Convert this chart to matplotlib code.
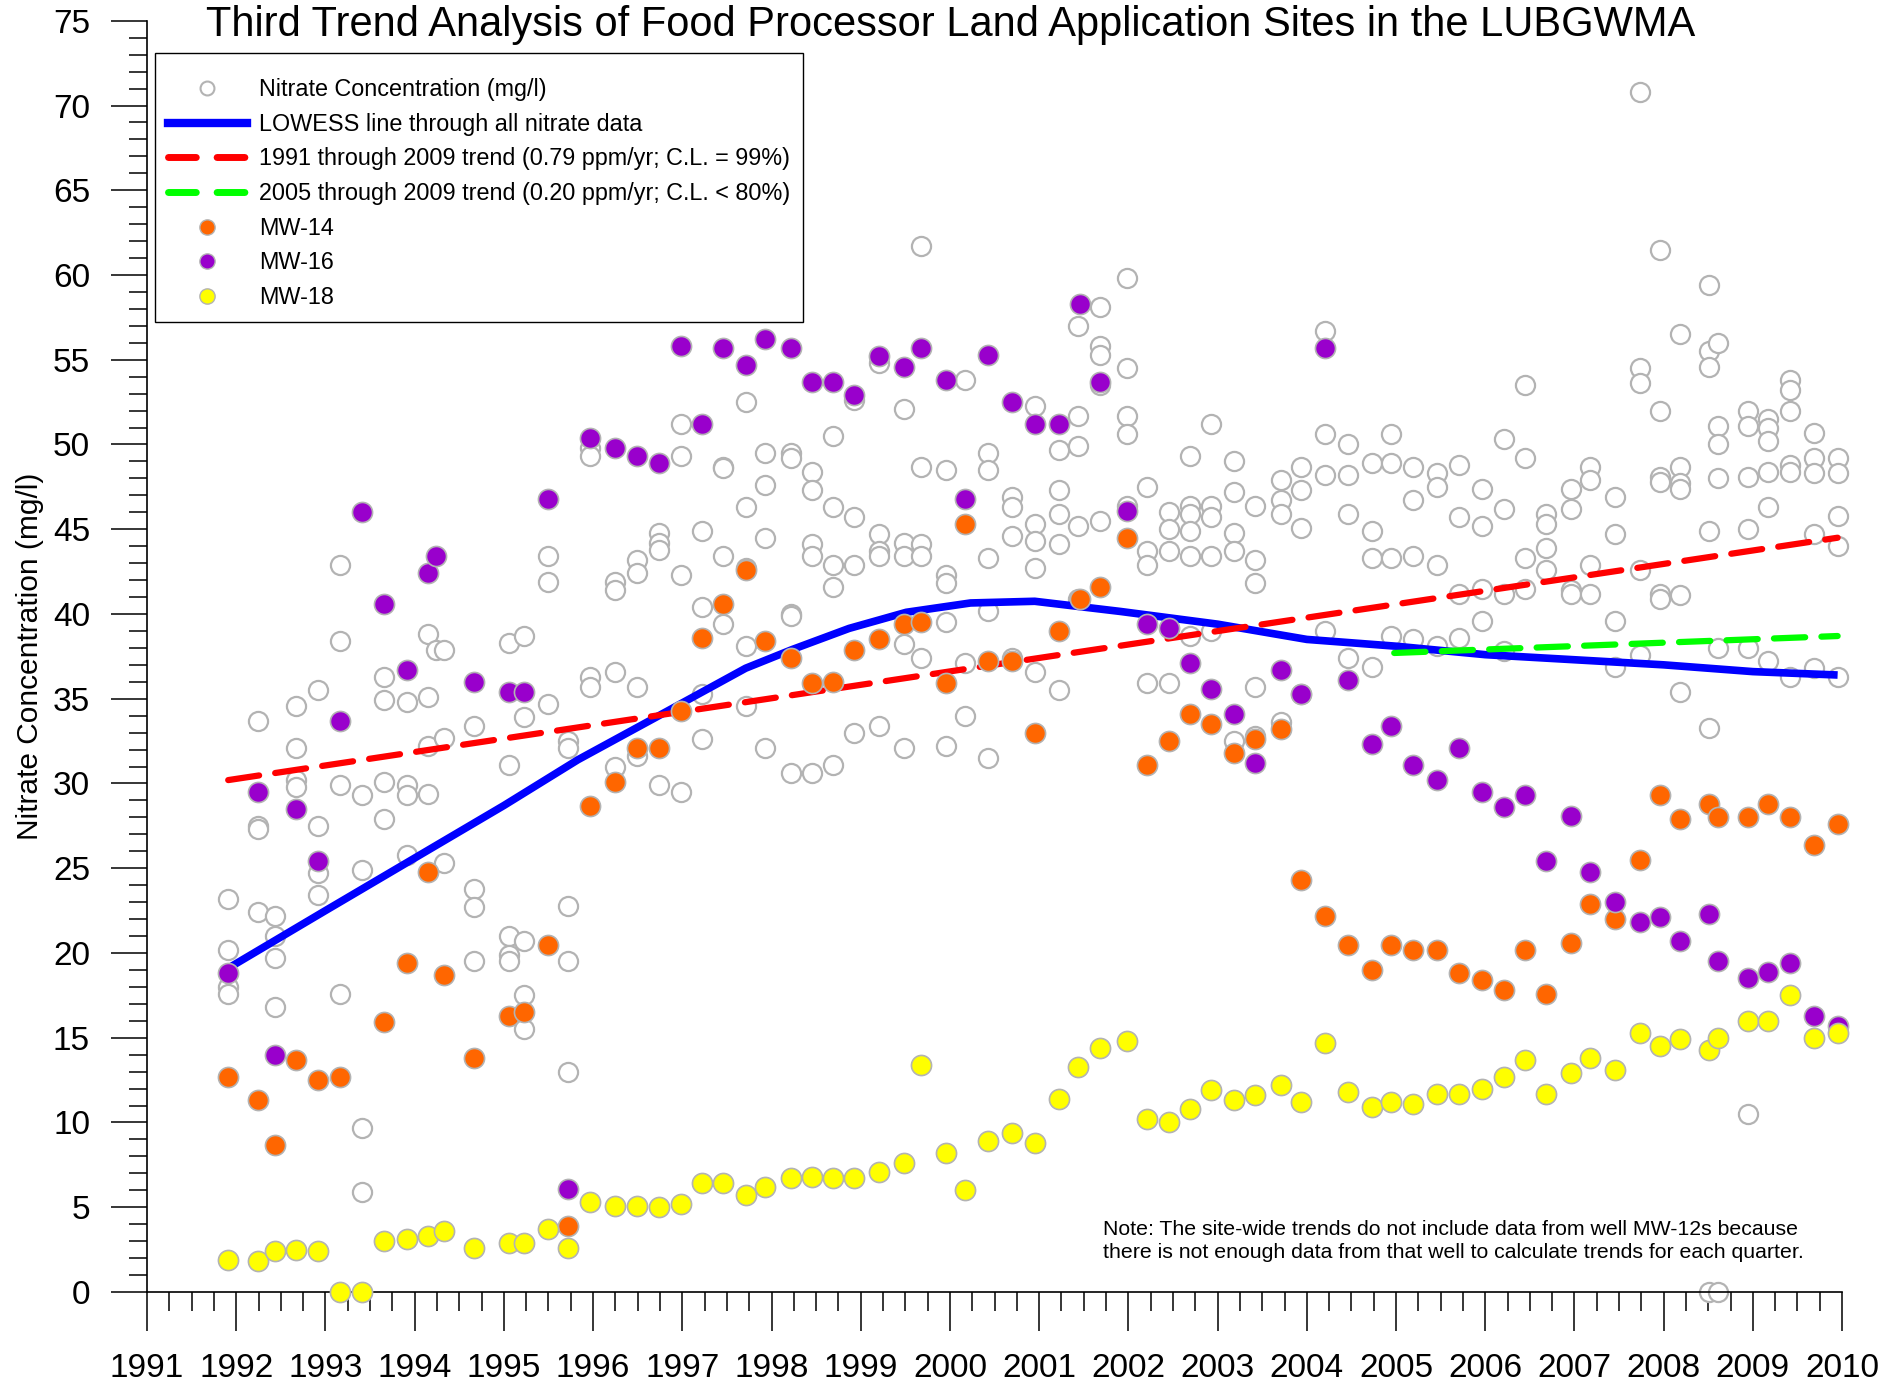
import numpy as np
import matplotlib
matplotlib.use("Agg")
import matplotlib.pyplot as plt
from matplotlib.ticker import MultipleLocator
from matplotlib.lines import Line2D

plt.rcParams['font.family'] = ['Liberation Sans', 'DejaVu Sans']

# ---------------- data ----------------
# MW-14
mw14_dates = [1991.91, 1992.24, 1992.43, 1992.67, 1992.92, 1993.16, 1993.66, 1993.91, 1994.15, 1994.33,
              1994.67, 1995.06, 1995.23, 1995.50, 1995.72, 1995.96, 1996.25, 1996.49, 1996.74, 1996.99,
              1997.22, 1997.46, 1997.71, 1997.93, 1998.22, 1998.45, 1998.69, 1998.92, 1999.21, 1999.49,
              1999.68, 1999.96, 2000.17, 2000.43, 2000.70, 2000.95, 2001.22, 2001.46, 2001.68, 2001.98,
              2002.21, 2002.46, 2002.69, 2002.93, 2003.18, 2003.42, 2003.71, 2003.94, 2004.20, 2004.46,
              2004.73, 2004.94, 2005.19, 2005.46, 2005.71, 2005.96, 2006.21, 2006.45, 2006.68, 2006.96,
              2007.17, 2007.45, 2007.73, 2007.96, 2008.18, 2008.51, 2008.61, 2008.94, 2009.17, 2009.42,
              2009.69, 2009.95]
mw14_values = [12.7, 11.3, 8.7, 13.7, 12.5, 12.7, 15.9, 19.4, 24.8, 18.7,
               13.8, 16.3, 16.5, 20.5, 3.9, 28.7, 30.1, 32.1, 32.1, 34.3,
               38.6, 40.6, 42.6, 38.4, 37.4, 35.9, 36.0, 37.9, 38.5, 39.4,
               39.5, 35.9, 45.3, 37.2, 37.2, 33.0, 39.0, 40.9, 41.6, 44.5,
               31.1, 32.5, 34.1, 33.5, 31.8, 32.6, 33.2, 24.3, 22.2, 20.5,
               19.0, 20.5, 20.2, 20.2, 18.8, 18.4, 17.8, 20.2, 17.6, 20.6,
               22.9, 22.0, 25.5, 29.3, 27.9, 28.8, 28.0, 28.0, 28.8, 28.0,
               26.4, 27.6]

# MW-16
mw16_dates = [1991.91, 1992.24, 1992.43, 1992.67, 1992.92, 1993.16, 1993.41, 1993.66, 1993.91, 1994.15,
              1994.24, 1994.67, 1995.06, 1995.23, 1995.50, 1995.72, 1995.96, 1996.25, 1996.49, 1996.74,
              1996.99, 1997.22, 1997.46, 1997.71, 1997.93, 1998.22, 1998.45, 1998.69, 1998.92, 1999.21,
              1999.49, 1999.68, 1999.96, 2000.17, 2000.43, 2000.70, 2000.95, 2001.22, 2001.46, 2001.68,
              2001.98, 2002.21, 2002.46, 2002.69, 2002.93, 2003.18, 2003.42, 2003.71, 2003.94, 2004.20,
              2004.46, 2004.73, 2004.94, 2005.19, 2005.46, 2005.71, 2005.96, 2006.21, 2006.45, 2006.68,
              2006.96, 2007.17, 2007.45, 2007.73, 2007.96, 2008.18, 2008.51, 2008.61, 2008.94, 2009.17,
              2009.42, 2009.69, 2009.95]
mw16_values = [18.8, 29.5, 14.0, 28.5, 25.4, 33.7, 46.0, 40.6, 36.7, 42.4,
               43.4, 36.0, 35.4, 35.4, 46.8, 6.1, 50.4, 49.8, 49.3, 48.9,
               55.8, 51.2, 55.7, 54.7, 56.2, 55.7, 53.7, 53.7, 52.9, 55.2,
               54.6, 55.7, 53.8, 46.8, 55.3, 52.5, 51.2, 51.2, 58.3, 53.7,
               46.1, 39.4, 39.2, 37.1, 35.6, 34.1, 31.2, 36.7, 35.3, 55.7,
               36.1, 32.3, 33.4, 31.1, 30.2, 32.1, 29.5, 28.6, 29.3, 25.4,
               28.1, 24.8, 23.0, 21.8, 22.1, 20.7, 22.3, 19.5, 18.5, 18.9,
               19.4, 16.3, 15.7]

# MW-18
mw18_dates = [1991.91, 1992.24, 1992.43, 1992.67, 1992.92, 1993.16, 1993.41, 1993.66, 1993.91, 1994.15,
              1994.33, 1994.67, 1995.06, 1995.23, 1995.50, 1995.72, 1995.96, 1996.25, 1996.49, 1996.74,
              1996.99, 1997.22, 1997.46, 1997.71, 1997.93, 1998.22, 1998.45, 1998.69, 1998.92, 1999.21,
              1999.49, 1999.68, 1999.96, 2000.17, 2000.43, 2000.70, 2000.95, 2001.22, 2001.44, 2001.68,
              2001.98, 2002.21, 2002.46, 2002.69, 2002.93, 2003.18, 2003.42, 2003.71, 2003.94, 2004.20,
              2004.46, 2004.73, 2004.94, 2005.19, 2005.46, 2005.71, 2005.96, 2006.21, 2006.45, 2006.68,
              2006.96, 2007.17, 2007.45, 2007.73, 2007.96, 2008.18, 2008.51, 2008.61, 2008.94, 2009.17,
              2009.42, 2009.69, 2009.95]
mw18_values = [1.9, 1.8, 2.4, 2.5, 2.4, 0.0, 0.0, 3.0, 3.1, 3.3,
               3.6, 2.6, 2.9, 2.9, 3.7, 2.6, 5.3, 5.1, 5.1, 5.0,
               5.2, 6.4, 6.4, 5.7, 6.2, 6.7, 6.8, 6.7, 6.7, 7.1,
               7.6, 13.4, 8.2, 6.0, 8.9, 9.4, 8.8, 11.4, 13.3, 14.4,
               14.8, 10.2, 10.0, 10.8, 11.9, 11.3, 11.6, 12.2, 11.2, 14.7,
               11.8, 10.9, 11.2, 11.1, 11.7, 11.7, 12.0, 12.7, 13.7, 11.7,
               12.9, 13.8, 13.1, 15.3, 14.5, 14.9, 14.3, 15.0, 16.0, 16.0,
               17.5, 15.0, 15.3]

# remaining wells (open gray circles), one list of values per sampling date
other_dates = [1991.91, 1992.24, 1992.43, 1992.67, 1992.92, 1993.16, 1993.41, 1993.66, 1993.91, 1994.15,
               1994.24, 1994.33, 1994.67, 1995.06, 1995.23, 1995.50, 1995.72, 1995.96, 1996.25, 1996.49,
               1996.74, 1996.99, 1997.22, 1997.46, 1997.71, 1997.93, 1998.22, 1998.45, 1998.69, 1998.92,
               1999.21, 1999.49, 1999.68, 1999.96, 2000.17, 2000.43, 2000.70, 2000.95, 2001.22, 2001.44,
               2001.68, 2001.98, 2002.21, 2002.46, 2002.69, 2002.93, 2003.18, 2003.42, 2003.71, 2003.94,
               2004.20, 2004.46, 2004.73, 2004.94, 2005.19, 2005.46, 2005.71, 2005.96, 2006.21, 2006.45,
               2006.68, 2006.96, 2007.17, 2007.45, 2007.73, 2007.96, 2008.18, 2008.51, 2008.61, 2008.94,
               2009.17, 2009.42, 2009.69, 2009.95]
other_values = [
    [23.2, 20.2, 18.0, 17.6], [33.7, 27.5, 27.3, 22.4], [22.2, 21.0, 19.7, 16.8], [34.6, 32.1, 30.2, 29.8],
    [35.5, 27.5, 24.7, 23.4], [42.9, 38.4, 29.9, 17.6], [29.3, 24.9, 9.7, 5.9], [36.3, 34.9, 30.1, 27.9],
    [34.8, 29.9, 29.3, 25.8], [38.8, 35.1, 32.2, 29.4], [37.9], [37.9, 32.7, 25.3],
    [33.4, 23.8, 22.7, 19.5], [38.3, 31.1, 21.0, 19.9, 19.5], [38.7, 33.9, 20.7, 17.5, 15.5], [43.4, 41.9, 34.7],
    [32.5, 32.1, 22.8, 19.5, 13.0], [49.8, 49.3, 36.3, 35.7], [41.9, 41.4, 36.6, 31.0], [43.2, 42.4, 35.7, 31.6],
    [44.8, 44.2, 43.8, 29.9], [51.2, 49.3, 42.3, 29.5], [44.9, 40.4, 35.3, 32.6], [48.7, 48.6, 43.4, 39.4],
    [52.5, 46.3, 42.7, 38.1, 34.6], [49.5, 47.6, 44.5, 32.1], [49.5, 49.2, 40.0, 39.9, 30.6], [48.4, 47.3, 44.1, 43.4, 30.6],
    [50.5, 46.3, 42.9, 41.6, 31.1], [52.6, 45.7, 42.9, 33.0], [54.8, 44.7, 43.7, 43.4, 33.4], [52.1, 44.2, 43.4, 38.2, 32.1],
    [61.7, 48.7, 44.1, 43.4, 37.4], [48.5, 42.3, 41.8, 39.5, 32.2], [53.8, 37.1, 34.0], [49.5, 48.5, 43.3, 40.2, 31.5],
    [46.9, 46.3, 44.6, 37.4], [52.3, 45.3, 44.3, 42.7, 36.6], [49.7, 47.3, 45.9, 44.1, 35.5], [57.0, 51.7, 49.9, 45.2, 40.9],
    [58.1, 55.8, 55.3, 53.5, 45.5], [59.8, 54.5, 51.7, 50.6, 46.4], [47.5, 43.7, 42.9, 35.9], [46.0, 45.0, 43.7, 35.9],
    [49.3, 46.4, 45.9, 44.9, 43.4, 38.7], [51.2, 46.4, 45.7, 43.4, 39.0], [49.0, 47.2, 44.8, 43.7, 32.5], [46.4, 43.2, 41.8, 35.7, 32.8],
    [47.9, 46.7, 45.9, 33.6], [48.7, 47.3, 45.1, 35.3], [56.7, 50.6, 48.2, 39.0], [50.0, 48.2, 45.9, 37.4],
    [48.9, 44.9, 43.3, 36.9], [50.6, 48.9, 43.3, 38.7], [48.7, 46.7, 43.4, 38.5], [48.3, 47.5, 42.9, 38.1],
    [48.8, 45.7, 41.2, 38.6], [47.4, 45.2, 41.5, 39.6], [50.3, 46.2, 41.2, 37.8], [53.5, 49.2, 43.3, 41.5],
    [45.9, 45.3, 43.9, 42.6], [47.4, 46.2, 41.4, 41.2], [48.7, 47.9, 42.9, 41.2], [46.9, 44.7, 39.6, 36.9],
    [70.8, 54.5, 53.6, 42.6, 37.6], [61.5, 52.0, 48.1, 47.8, 41.2, 40.9], [56.5, 48.7, 47.7, 47.4, 41.1, 35.4], [59.4, 55.5, 54.6, 44.9, 33.3, 0.0],
    [56.0, 51.1, 50.0, 48.0, 38.0, 0.0], [52.0, 51.1, 48.1, 45.0, 38.0, 10.5], [51.5, 51.0, 50.2, 48.4, 46.3, 37.2], [53.8, 53.2, 52.0, 48.8, 48.4, 36.3],
    [50.7, 49.2, 48.3, 44.7, 36.8], [49.2, 48.3, 45.8, 44.0, 36.3],
]

# LOWESS curve through all nitrate data
lowess_dates = [1991.91, 1993.0, 1994.0, 1995.0, 1995.83, 1996.79, 1997.71, 1998.23, 1998.87, 1999.51,
                2000.23, 2000.95, 2001.91, 2003.0, 2004.0, 2005.0, 2006.0, 2007.0, 2008.0,
                2009.0, 2009.95]
lowess_values = [19.1, 22.5, 25.6, 28.7, 31.4, 34.15, 36.8, 37.9, 39.15, 40.1,
                 40.65, 40.75, 40.15, 39.4, 38.5, 38.1, 37.6, 37.3, 37.0,
                 36.6, 36.4]

# Trend lines (start / end)
trend91_dates = [1991.91, 2009.95]
trend91_values = [30.2, 44.5]
trend05_dates = [2004.98, 2009.95]
trend05_values = [37.7, 38.7]

year_ticks = list(range(1991, 2011))

# ---------------- plot ----------------
fig = plt.figure(figsize=(19.02, 13.84), dpi=100)
ax = fig.add_axes([0.0773, 0.0665, 0.8912, 0.9185])

gray_edge = '#b3b3b3'
ox = [d for d, vals in zip(other_dates, other_values) for _ in vals]
oy = [v for vals in other_values for v in vals]
ax.scatter(ox, oy, s=190, facecolors='white', edgecolors=gray_edge, linewidths=1.6,
           zorder=2, clip_on=False)

ax.plot(lowess_dates, lowess_values, color='#0000ff', lw=5.5, solid_capstyle='butt', zorder=3)
ax.plot(trend91_dates, trend91_values, color='#ff0000', lw=4.5, dashes=(5, 2.6),
        dash_capstyle='round', zorder=3)
ax.plot(trend05_dates, trend05_values, color='#00ff00', lw=4.5, dashes=(5, 2.6),
        dash_capstyle='round', zorder=3)

for dates, vals, col in [(mw14_dates, mw14_values, '#ff6600'),
                         (mw16_dates, mw16_values, '#9900cc'),
                         (mw18_dates, mw18_values, '#ffff00')]:
    ax.scatter(dates, vals, s=210, color=col, edgecolors=gray_edge, linewidths=1.2,
               zorder=4, clip_on=False)

ax.set_xlim(1991, 2010)
ax.set_ylim(0, 75)
ax.set_xticks(year_ticks)
ax.set_xticklabels([str(y) for y in year_ticks])
ax.xaxis.set_minor_locator(MultipleLocator(0.25))
ax.yaxis.set_major_locator(MultipleLocator(5))
ax.yaxis.set_minor_locator(MultipleLocator(1))
ax.spines['top'].set_visible(False)
ax.spines['right'].set_visible(False)
for sp in ['left', 'bottom']:
    ax.spines[sp].set_linewidth(1.2)
ax.tick_params(axis='x', which='major', direction='out', length=28, width=1.1, pad=16, labelsize=24)
ax.tick_params(axis='x', which='minor', direction='out', length=14, width=1.1)
ax.tick_params(axis='y', which='major', direction='out', length=26, width=1.1, pad=15, labelsize=24)
ax.tick_params(axis='y', which='minor', direction='out', length=13, width=1.1)

ax.set_ylabel('Nitrate Concentration (mg/l)', fontsize=21.5)
ax.yaxis.set_label_coords(-0.061, 0.5)

fig.text(0.5, 1 - 25 / 1384, 'Third Trend Analysis of Food Processor Land Application Sites in the LUBGWMA',
         ha='center', va='center', fontsize=30)

ax.text(0.564, 0.0488, 'Note: The site-wide trends do not include data from well MW-12s because',
        transform=ax.transAxes, fontsize=15.3, ha='left', va='center')
ax.text(0.564, 0.0308, 'there is not enough data from that well to calculate trends for each quarter.',
        transform=ax.transAxes, fontsize=15.3, ha='left', va='center')

handles = [
    Line2D([], [], ls='none', marker='o', ms=10, mfc='white', mec=gray_edge, mew=1.5),
    Line2D([], [], color='#0000ff', lw=6),
    Line2D([], [], color='#ff0000', lw=5, dashes=(4.0, 3.0), dash_capstyle='round'),
    Line2D([], [], color='#00ff00', lw=5, dashes=(4.0, 3.0), dash_capstyle='round'),
    Line2D([], [], ls='none', marker='o', ms=11, mfc='#ff6600', mec=gray_edge, mew=1),
    Line2D([], [], ls='none', marker='o', ms=11, mfc='#9900cc', mec=gray_edge, mew=1),
    Line2D([], [], ls='none', marker='o', ms=11, mfc='#ffff00', mec=gray_edge, mew=1),
]
labels = ['Nitrate Concentration (mg/l)', 'LOWESS line through all nitrate data',
          '1991 through 2009 trend (0.79 ppm/yr; C.L. = 99%)',
          '2005 through 2009 trend (0.20 ppm/yr; C.L. < 80%)',
          'MW-14', 'MW-16', 'MW-18']
# tiny blank title only adds a little space above the first row
leg = ax.legend(handles, labels, loc='upper left', bbox_to_anchor=(0.0047, 0.975), borderaxespad=0,
                fontsize=16.8, frameon=True, fancybox=False, edgecolor='black', framealpha=1,
                handlelength=3.4, handletextpad=0.52, labelspacing=0.5, borderpad=0.55,
                title=' ', title_fontsize=1)
leg.get_frame().set_linewidth(1.0)

fig.savefig('out.png', dpi=100)
